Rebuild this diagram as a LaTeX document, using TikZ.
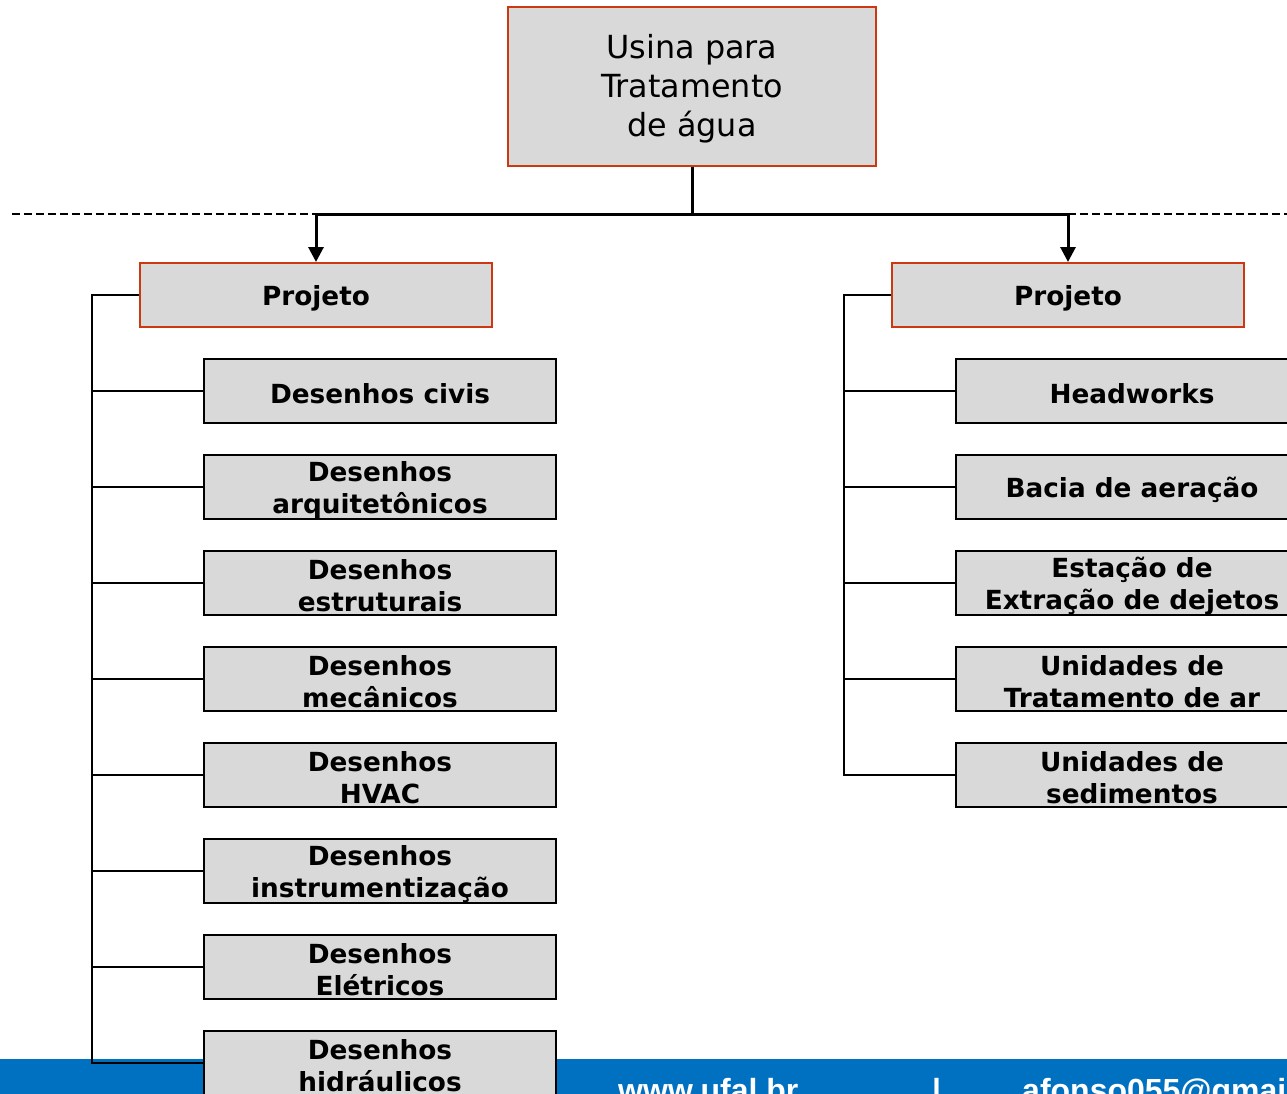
\documentclass[tikz,border=0pt]{standalone}
\usepackage{fontspec}
\setmainfont{DejaVu Sans}
\newfontfamily\footfont{Liberation Sans}
\usetikzlibrary{arrows.meta}
\definecolor{boxfill}{RGB}{217,217,217}
\definecolor{boxred}{RGB}{204,56,18}
\definecolor{footblue}{RGB}{0,112,192}
\tikzset{
  topbox/.style={draw=boxred, line width=2pt, fill=boxfill, minimum width=368pt, minimum height=159pt, inner sep=0pt},
  toptext/.style={inner sep=0pt, align=center, font=\fontsize{31.8}{39}\selectfont},
  projbox/.style={draw=boxred, line width=2pt, fill=boxfill, minimum width=352pt, minimum height=64pt, inner sep=0pt},
  itembox/.style={draw=black, line width=2pt, fill=boxfill, minimum width=352pt, minimum height=64pt, inner sep=0pt},
  boxtext/.style={inner sep=0pt, align=center, yshift=-3pt, font=\fontsize{26.3}{32}\selectfont\bfseries},
  conn/.style={draw=black, line width=3pt},
  bracket/.style={draw=black, line width=2pt},
  arr/.style={conn, -{Triangle[width=15pt,length=15pt]}},
  foottext/.style={text=white, font=\footfont\fontsize{32}{38}\selectfont\bfseries, inner sep=0pt, anchor=base west}
}
\begin{document}
\begin{tikzpicture}[x=1pt,y=-1pt]
\useasboundingbox (0,0) rectangle (1287,1094);
\clip (0,0) rectangle (1287,1094);
% footer
\fill[footblue] (0,1059) rectangle (1287,1094);
\node[foottext] (web) at (618,1101) {www.ufal.br};
\node[foottext] (sep) at (932,1101) {|};
\node[foottext] (mail) at (1022,1101) {afonso055@gmail.com};
% dashed separator
\draw[black, line width=1.8pt, dash pattern=on 8pt off 4pt] (12,214) -- (1287,214);
% top
\node[topbox] (top) at (692,86.5) {};
\node[toptext] (topt) at (692,89) {Usina para\\Tratamento\\de água};
\node[projbox] (pL) at (316,295) {};
\node[boxtext] (pLt) at (pL) {Projeto};
\node[projbox] (pR) at (1068,295) {};
\node[boxtext] (pRt) at (pR) {Projeto};
\coordinate (j) at (692,214);
\draw[conn] (top.south) -- (j);
\draw[arr] (j) -| (pL.north);
\draw[arr] (j) -| (pR.north);
% left items
\foreach \n/\y/\t in {l1/391/{Desenhos civis}, l2/487/{Desenhos\\arquitetônicos}, l3/583/{Desenhos\\estruturais}, l4/679/{Desenhos\\mecânicos}, l5/775/{Desenhos\\HVAC}, l6/871/{Desenhos\\instrumentização}, l7/967/{Desenhos\\Elétricos}, l8/1063/{Desenhos\\hidráulicos}}{
  \node[itembox] (\n) at (380,\y) {};
  \node[boxtext] (\n t) at (\n) {\t};
}
\coordinate (lb) at (92,295);
\draw[bracket] (pL.west) -- (lb) |- (l8.west);
\foreach \n in {l1,l2,l3,l4,l5,l6,l7}{\draw[bracket] (lb |- \n.west) -- (\n.west);}
% right items
\foreach \n/\y/\t in {r1/391/{Headworks}, r2/487/{Bacia de aeração}, r3/583/{Estação de\\Extração de dejetos}, r4/679/{Unidades de\\Tratamento de ar}, r5/775/{Unidades de\\sedimentos}}{
  \node[itembox] (\n) at (1132,\y) {};
  \node[boxtext] (\n t) at (\n) {\t};
}
\coordinate (rb) at (844,295);
\draw[bracket] (pR.west) -- (rb) |- (r5.west);
\foreach \n in {r1,r2,r3,r4}{\draw[bracket] (rb |- \n.west) -- (\n.west);}
\end{tikzpicture}
\end{document}
